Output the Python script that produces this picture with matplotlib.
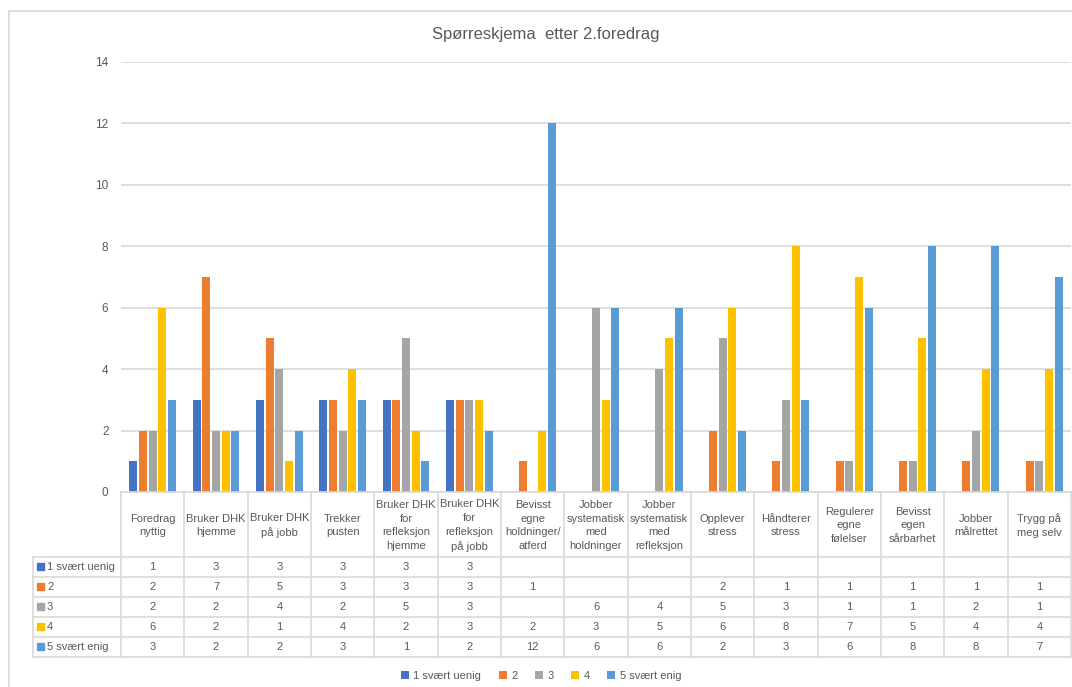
import matplotlib.pyplot as plt
from matplotlib.patches import Rectangle
import numpy as np

plt.rcParams['font.family'] = ['Liberation Sans', 'DejaVu Sans']

kategorier = ["Foredrag\nnyttig", "Bruker DHK\nhjemme", "Bruker DHK\npå jobb",
              "Trekker\npusten", "Bruker DHK\nfor\nrefleksjon\nhjemme",
              "Bruker DHK\nfor\nrefleksjon\npå jobb", "Bevisst\negne\nholdninger/\natferd",
              "Jobber\nsystematisk\nmed\nholdninger", "Jobber\nsystematisk\nmed\nrefleksjon",
              "Opplever\nstress", "Håndterer\nstress", "Regulerer\negne\nfølelser",
              "Bevisst\negen\nsårbarhet", "Jobber\nmålrettet", "Trygg på\nmeg selv"]

svar1 = [1, 3, 3, 3, 3, 3, None, None, None, None, None, None, None, None, None]
svar2 = [2, 7, 5, 3, 3, 3, 1, None, None, 2, 1, 1, 1, 1, 1]
svar3 = [2, 2, 4, 2, 5, 3, None, 6, 4, 5, 3, 1, 1, 2, 1]
svar4 = [6, 2, 1, 4, 2, 3, 2, 3, 5, 6, 8, 7, 5, 4, 4]
svar5 = [3, 2, 2, 3, 1, 2, 12, 6, 6, 2, 3, 6, 8, 8, 7]

serier = [svar1, svar2, svar3, svar4, svar5]
navn = ["1 svært uenig", "2", "3", "4", "5 svært enig"]
farger = ["#4472C4", "#ED7D31", "#A5A5A5", "#FFC000", "#5B9BD5"]

tekst = "#595959"
linje = "#D9D9D9"
fs = 8

W, H = 1072, 687
fig = plt.figure(figsize=(W / 100, H / 100), dpi=100)

def px(x0, y0, x1, y1):
    # pikselboks -> [left, bottom, width, height] i figurbrøk
    return [x0 / W, 1 - y1 / H, (x1 - x0) / W, (y1 - y0) / H]

# ramme rundt diagrammet
fig.add_artist(plt.Line2D([9 / W, 9 / W], [0, 1 - 11 / H], color=linje, lw=1.2))
fig.add_artist(plt.Line2D([9 / W, 1], [1 - 11 / H, 1 - 11 / H], color=linje, lw=1.2))

x0, x1 = 121, 1071
ytop, y0 = 62, 492
ax = fig.add_axes(px(x0, ytop, x1, y0))
n = len(kategorier)
x = np.arange(n)
steg = 0.153
bredde = 0.125
for k, (verdier, farge, nv) in enumerate(zip(serier, farger, navn)):
    v = [np.nan if a is None else a for a in verdier]
    ax.bar(x + (k - 2) * steg, v, width=bredde, color=farge, label=nv, zorder=3)

ax.set_xlim(-0.5, n - 0.5)
ax.set_ylim(0, 14)
ax.set_yticks(range(0, 15, 2))
ax.yaxis.grid(True, color=linje, lw=1.2, zorder=0)
ax.set_xticks([])
for s in ax.spines.values():
    s.set_visible(False)
ax.tick_params(axis='y', length=0, pad=9, labelsize=8.5, labelcolor=tekst)

fig.text(546 / W, 1 - 35 / H, "Spørreskjema  etter 2.foredrag", ha='center', va='center',
         fontsize=12, color=tekst)

# datatabell under diagrammet
xl = 33
enhet = (x1 - x0) / n
tab = fig.add_axes(px(xl, y0, x1, 658))
venstre = -0.5 - (x0 - xl) / enhet
tab.set_xlim(venstre, n - 0.5)
tab.set_ylim(658, y0)
tab.axis('off')

hode = 557
rader = [557, 577, 597, 617, 637, 657]
kw = dict(color=linje, lw=1.2, clip_on=False)
tab.plot([-0.5, n - 0.5], [y0, y0], **kw)
for i in range(n + 1):
    tab.plot([i - 0.5, i - 0.5], [y0, rader[-1]], **kw)
tab.plot([venstre, venstre], [hode, rader[-1]], **kw)
for r in rader:
    tab.plot([venstre, n - 0.5], [r, r], **kw)

for i, kat in enumerate(kategorier):
    tab.text(i, (y0 + hode) / 2 + 1, kat, ha='center', va='center', fontsize=fs,
             color=tekst, linespacing=1.45)

for j, (verdier, farge, nv) in enumerate(zip(serier, farger, navn)):
    ym = (rader[j] + rader[j + 1]) / 2
    tab.add_patch(Rectangle((venstre + 4 / enhet, ym - 4), 7 / enhet, 7,
                            color=farge, clip_on=False))
    tab.text(venstre + 14 / enhet, ym, nv, ha='left', va='center', fontsize=fs, color=tekst)
    for i, a in enumerate(verdier):
        if a is not None:
            tab.text(i, ym, str(a), ha='center', va='center', fontsize=fs, color=tekst)

h, l = ax.get_legend_handles_labels()
fig.legend(h, l, loc='center', bbox_to_anchor=(541 / W, 1 - 676 / H), ncol=5,
           frameon=False, fontsize=fs, handlelength=0.7, handleheight=0.7,
           handletextpad=0.4, columnspacing=1.6, labelcolor=tekst)

fig.savefig("out.png", dpi=100)
